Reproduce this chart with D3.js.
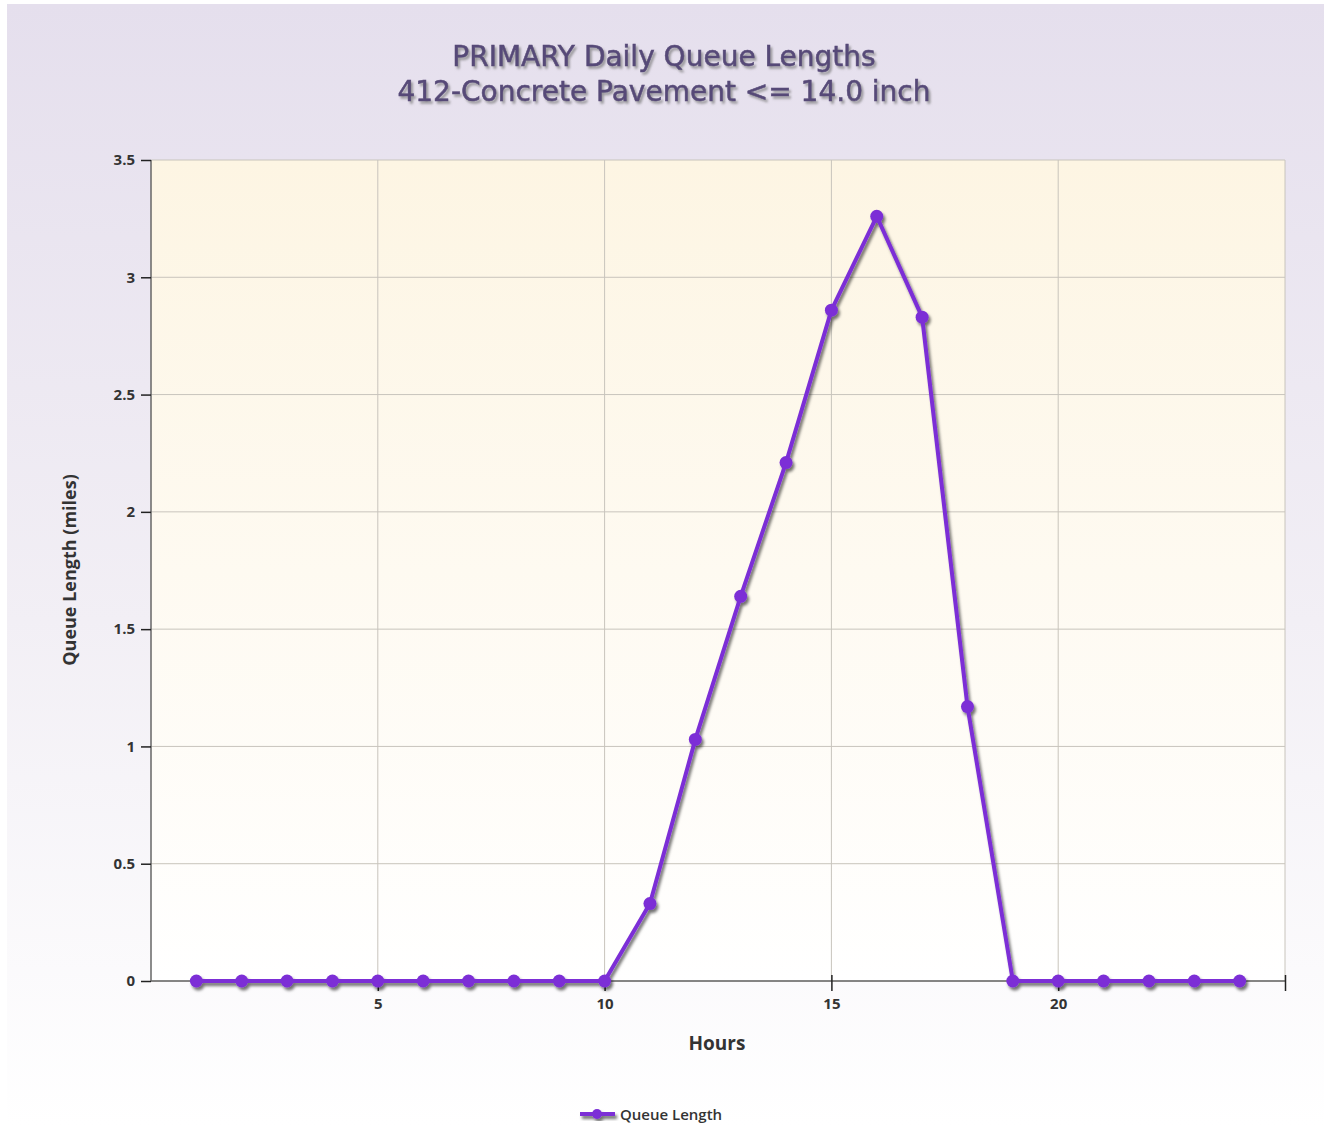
<!DOCTYPE html>
<html>
<head>
<meta charset="utf-8">
<script src="https://d3js.org/d3.v7.min.js"></script>
<style>
  body { margin: 0; background: #fff; }
  svg { display: block; font-family: "Open Sans", "DejaVu Sans", sans-serif; }
</style>
</head>
<body>
<div id="chart"></div>
<script>
// data
var hours = [1,2,3,4,5,6,7,8,9,10,11,12,13,14,15,16,17,18,19,20,21,22,23,24];
var queueLength = [0,0,0,0,0,0,0,0,0,0,0.33,1.03,1.64,2.21,2.86,3.26,2.83,1.17,0,0,0,0,0,0];
var xTicks = [5,10,15,20];
var yTicks = [0,0.5,1,1.5,2,2.5,3,3.5];

var W = 1324, H = 1126;
var margin = {top: 160, right: 39, bottom: 145, left: 151};
var width = W - margin.left - margin.right,
    height = H - margin.top - margin.bottom;

var svg = d3.select("#chart").append("svg")
  .attr("width", W).attr("height", H);

var defs = svg.append("defs");
var bg = defs.append("linearGradient").attr("id", "bg").attr("x1", 0).attr("y1", 0).attr("x2", 0).attr("y2", 1);
bg.append("stop").attr("offset", "0%").attr("stop-color", "#e5dfed");
bg.append("stop").attr("offset", "55%").attr("stop-color", "#f2eff5");
bg.append("stop").attr("offset", "100%").attr("stop-color", "#ffffff");

var pbg = defs.append("linearGradient").attr("id", "pbg").attr("x1", 0).attr("y1", 0).attr("x2", 0).attr("y2", 1);
pbg.append("stop").attr("offset", "0%").attr("stop-color", "#fdf5e3");
pbg.append("stop").attr("offset", "100%").attr("stop-color", "#ffffff");

var shadow = defs.append("filter").attr("id", "shadow").attr("x", "-10%").attr("y", "-10%").attr("width", "120%").attr("height", "130%");
shadow.append("feDropShadow").attr("dx", 2).attr("dy", 3).attr("stdDeviation", 1.5)
  .attr("flood-color", "#000").attr("flood-opacity", 0.55);

var tshadow = defs.append("filter").attr("id", "tshadow");
tshadow.append("feDropShadow").attr("dx", 2).attr("dy", 2.5).attr("stdDeviation", 1.3)
  .attr("flood-color", "#777").attr("flood-opacity", 0.7);

svg.append("rect").attr("x", 7).attr("y", 4).attr("width", W - 7).attr("height", H - 4)
  .attr("fill", "url(#bg)");

// title
var titles = ["PRIMARY Daily Queue Lengths", "412-Concrete Pavement <= 14.0 inch"];
svg.selectAll(".title").data(titles).enter().append("text")
  .attr("x", 664).attr("y", function(d, i) { return 66 + i * 35; }).attr("text-anchor", "middle")
  .attr("fill", "#574a78").attr("stroke", "#574a78").attr("stroke-width", 0.5)
  .attr("font-size", 28).attr("font-family", "'DejaVu Sans', sans-serif")
  .attr("filter", "url(#tshadow)")
  .text(function(d) { return d; });

var g = svg.append("g").attr("transform", "translate(" + margin.left + "," + margin.top + ")");

var x = d3.scaleLinear().domain([0, 25]).range([0, width]);
var y = d3.scaleLinear().domain([0, 3.5]).range([height, 0]);

g.append("rect").attr("width", width).attr("height", height).attr("fill", "url(#pbg)");

// grid
g.selectAll(".gy").data(yTicks).enter().append("line")
  .attr("x1", 0).attr("x2", width)
  .attr("y1", function(d) { return y(d); }).attr("y2", function(d) { return y(d); })
  .attr("stroke", "#c8c4bc").attr("stroke-width", 1);
g.selectAll(".gx").data(xTicks.concat([25])).enter().append("line")
  .attr("y1", 0).attr("y2", height)
  .attr("x1", function(d) { return x(d); }).attr("x2", function(d) { return x(d); })
  .attr("stroke", "#c8c4bc").attr("stroke-width", 1);

// axes
var yAxis = g.append("g").call(d3.axisLeft(y).tickValues(yTicks).tickSize(10).tickPadding(4)
  .tickFormat(function(d) { return d; }));
var xAxis = g.append("g").attr("transform", "translate(0," + height + ")")
  .call(d3.axisBottom(x).tickValues(xTicks.concat([25])).tickSize(10).tickPadding(3)
  .tickFormat(function(d) { return d === 25 ? "" : d; }));
[xAxis, yAxis].forEach(function(a) {
  a.select(".domain").attr("stroke", "#666").attr("stroke-width", 1.5);
  a.selectAll(".tick line").attr("stroke", "#222").attr("stroke-width", 1.5);
  a.selectAll("text").attr("font-size", 15).attr("font-weight", "bold").attr("fill", "#333")
    .attr("font-family", "'Open Sans', sans-serif");
});
yAxis.select(".domain").attr("d", "M0," + height + "V0");
xAxis.select(".domain").attr("d", "M0,0H" + width);
xAxis.selectAll(".tick line").attr("y1", -6).attr("y2", 10);
xAxis.selectAll(".tick text").attr("dy", "0.71em").attr("y", 17);
yAxis.selectAll(".tick").filter(function(d) { return d === 0; }).select("line")
  .attr("x1", 0).attr("x2", -10);
yAxis.selectAll(".tick text").attr("x", -16);

// axis titles
svg.append("text").attr("x", 717).attr("y", 1050).attr("text-anchor", "middle")
  .attr("font-size", 19).attr("font-weight", "bold").attr("fill", "#333").text("Hours");
svg.append("text").attr("transform", "translate(76,570) rotate(-90)").attr("text-anchor", "middle")
  .attr("font-size", 18).attr("font-weight", "bold").attr("fill", "#333").text("Queue Length (miles)");

// series
var series = g.append("g").attr("filter", "url(#shadow)");
var line = d3.line().x(function(d, i) { return x(hours[i]); }).y(function(d) { return y(d); });
series.append("path").datum(queueLength).attr("d", line)
  .attr("fill", "none").attr("stroke", "#7b2fd6").attr("stroke-width", 4).attr("stroke-linejoin", "round");
series.selectAll("circle").data(queueLength).enter().append("circle")
  .attr("cx", function(d, i) { return x(hours[i]); })
  .attr("cy", function(d) { return y(d); })
  .attr("r", 6.5).attr("fill", "#7b2fd6");

// legend
var lg = svg.append("g").attr("transform", "translate(580,1114)");
var lgs = lg.append("g").attr("filter", "url(#shadow)");
lgs.append("line").attr("x1", 0).attr("x2", 35).attr("y1", 0).attr("y2", 0)
  .attr("stroke", "#7b2fd6").attr("stroke-width", 4);
lgs.append("circle").attr("cx", 17).attr("cy", 0).attr("r", 5).attr("fill", "#7b2fd6");
lg.append("text").attr("x", 40).attr("y", 6).attr("font-size", 15).attr("font-weight", 600)
  .attr("fill", "#333").text("Queue Length");
</script>
</body>
</html>
